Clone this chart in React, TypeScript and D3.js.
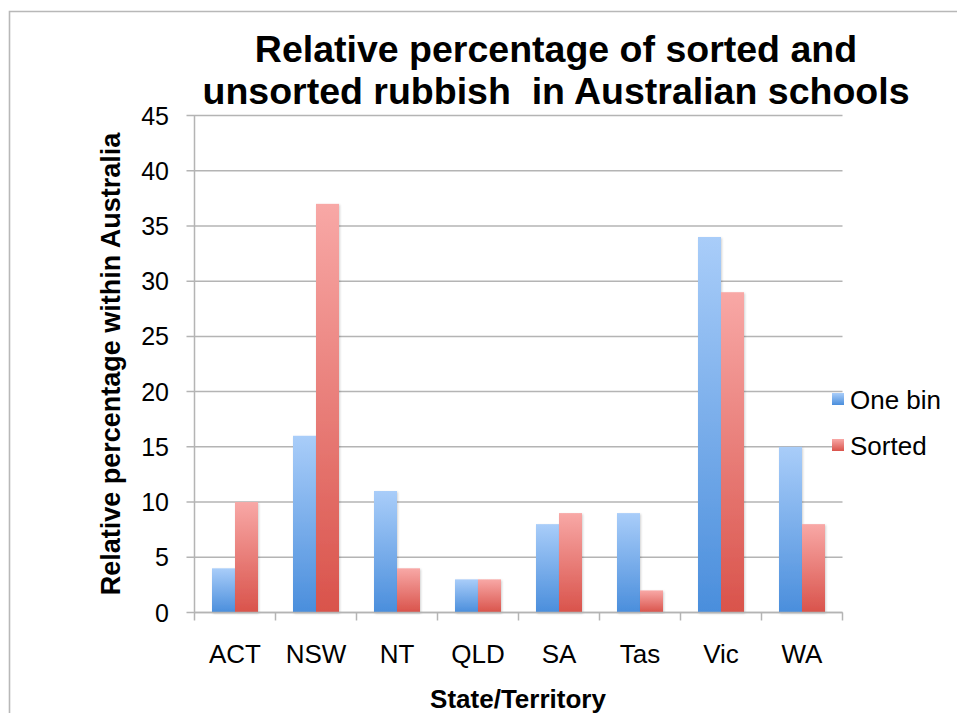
import React from "react";
import * as d3 from "d3";

const categories = ["ACT", "NSW", "NT", "QLD", "SA", "Tas", "Vic", "WA"];
const seriesNames = ["One bin", "Sorted"];
const oneBin = [4, 16, 11, 3, 8, 9, 34, 15];
const sorted = [10, 37, 4, 3, 9, 2, 29, 8];
const yTicks = [0, 5, 10, 15, 20, 25, 30, 35, 40, 45];
const titleLines = ["Relative percentage of sorted and", "unsorted rubbish  in Australian schools"];

const W = 957;
const H = 713;
const left = 194.5;
const right = 842.5;
const top = 115.5;
const bottom = 612.5;

const colors = [
  { light: "#a9cdf9", dark: "#4a8edc" },
  { light: "#f8a8a6", dark: "#d9534b" },
];

export default function App() {
  const x = d3.scaleBand<string>().domain(categories).range([left, right]);
  const x1 = d3.scaleBand<string>().domain(seriesNames).range([17.5, x.bandwidth() - 17.5]);
  const y = d3.scaleLinear().domain([0, 45]).range([bottom, top]);
  const data = [oneBin, sorted];
  const font = "'Liberation Sans', Arial, Helvetica, sans-serif";
  const grid = "#b4b4b4";

  return (
    <svg
      width={W}
      height={H}
      style={{ position: "absolute", left: 0, top: 0, background: "#fff" }}
      fontFamily={font}
    >
      <defs>
        {colors.map((c, i) => (
          <linearGradient key={i} id={`g${i}`} x1="0" y1="0" x2="0" y2="1">
            <stop offset="0%" stopColor={c.light} />
            <stop offset="100%" stopColor={c.dark} />
          </linearGradient>
        ))}
        <filter id="sh" x="-20%" y="-5%" width="140%" height="110%">
          <feDropShadow dx="1" dy="1" stdDeviation="1.2" floodColor="#000" floodOpacity="0.18" />
        </filter>
      </defs>
      <rect x={0} y={0} width={W} height={H} fill="#fff" />
      <path d={`M9.5,${H} L9.5,11.5 L${W},11.5`} fill="none" stroke="#b8b8b8" strokeWidth={1.6} />

      {/* title */}
      <text x={556} y={62} textAnchor="middle" fontSize={37.5} fontWeight="bold" fill="#000" style={{ whiteSpace: "pre" }}>
        {titleLines[0]}
      </text>
      <text x={556} y={104} textAnchor="middle" fontSize={37.5} fontWeight="bold" fill="#000" style={{ whiteSpace: "pre" }}>
        {titleLines[1]}
      </text>

      {/* gridlines */}
      {yTicks.map((t) => (
        <g key={t}>
          <line x1={left - 8} x2={right} y1={y(t)} y2={y(t)} stroke={grid} strokeWidth={1.5} />
          <text x={169} y={y(t) + 9} textAnchor="end" fontSize={25} fill="#000">
            {t}
          </text>
        </g>
      ))}
      <line x1={left} x2={left} y1={top} y2={bottom + 8} stroke={grid} strokeWidth={1.5} />
      {categories.map((c) => (
        <line
          key={c}
          x1={(x(c) as number) + x.bandwidth()}
          x2={(x(c) as number) + x.bandwidth()}
          y1={bottom}
          y2={bottom + 8}
          stroke={grid}
          strokeWidth={1.5}
        />
      ))}

      {/* bars */}
      {data.map((vals, si) =>
        categories.map((c, i) => (
          <rect
            key={`${si}-${c}`}
            x={(x(c) as number) + (x1(seriesNames[si]) as number)}
            y={y(vals[i])}
            width={x1.bandwidth()}
            height={bottom - y(vals[i])}
            fill={`url(#g${si})`}
            filter="url(#sh)"
          />
        ))
      )}
      <line x1={left} x2={right} y1={bottom} y2={bottom} stroke={grid} strokeWidth={1.5} />

      {/* category labels */}
      {categories.map((c) => (
        <text
          key={c}
          x={(x(c) as number) + x.bandwidth() / 2}
          y={663}
          textAnchor="middle"
          fontSize={26}
          fill="#000"
        >
          {c}
        </text>
      ))}

      {/* axis titles */}
      <text x={518} y={708} textAnchor="middle" fontSize={26} fontWeight="bold" fill="#000">
        State/Territory
      </text>
      <text
        transform={`translate(120,364) rotate(-90)`}
        textAnchor="middle"
        fontSize={27}
        fontWeight="bold"
        fill="#000"
      >
        Relative percentage within Australia
      </text>

      {/* legend */}
      {seriesNames.map((s, i) => (
        <g key={s} transform={`translate(832,${393 + i * 46})`}>
          <rect x={0} y={0} width={12} height={12} fill={`url(#g${i})`} />
          <text x={18} y={16} fontSize={26} fill="#000">
            {s}
          </text>
        </g>
      ))}
    </svg>
  );
}
